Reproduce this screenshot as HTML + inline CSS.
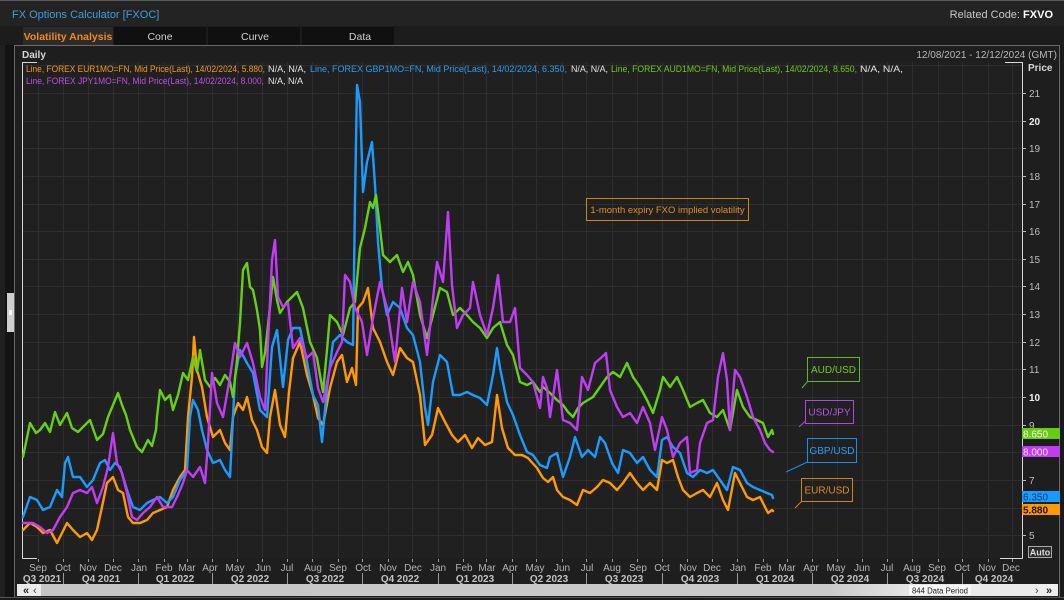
<!DOCTYPE html>
<html><head><meta charset="utf-8"><style>
html,body{margin:0;padding:0;background:#1a1a1a;width:1064px;height:600px;overflow:hidden}
svg{display:block;font-family:"Liberation Sans",Arial,sans-serif}
</style></head><body>
<svg width="1064" height="600" viewBox="0 0 1064 600" xmlns="http://www.w3.org/2000/svg">
<rect x="0" y="0" width="1064" height="600" fill="#1a1a1a"/>
<!-- title bar -->
<rect x="0" y="0" width="1064" height="26" fill="#232323"/>
<line x1="0" y1="0.5" x2="1064" y2="0.5" stroke="#5a5a5a"/>
<text x="12" y="18" font-size="11" fill="#3aa0dc">FX Options Calculator [FXOC]</text>
<text x="1053" y="18" font-size="11" fill="#c8c8c8" text-anchor="end">Related Code: <tspan font-weight="bold" fill="#ffffff">FXVO</tspan></text>
<!-- tab row -->
<rect x="0" y="26" width="1064" height="19" fill="#1c1c1c"/>
<rect x="23" y="27" width="90" height="18" fill="#2b2b2b"/>
<rect x="114" y="27" width="92" height="18" fill="#101010"/>
<rect x="208" y="27" width="92" height="18" fill="#101010"/>
<rect x="302" y="27" width="92" height="18" fill="#101010"/>
<text x="68" y="40" font-size="10.5" font-weight="bold" fill="#f08a1c" text-anchor="middle">Volatility Analysis</text>
<text x="160" y="40" font-size="10.5" fill="#cfcfcf" text-anchor="middle">Cone</text>
<text x="255" y="40" font-size="10.5" fill="#cfcfcf" text-anchor="middle">Curve</text>
<text x="360" y="40" font-size="10.5" fill="#cfcfcf" text-anchor="middle">Data</text>
<!-- left strip -->
<rect x="0" y="45" width="14" height="555" fill="#131313"/>
<rect x="0" y="45" width="5" height="555" fill="#202020"/>
<rect x="7" y="293" width="8" height="39" fill="#cfcfcf"/>
<rect x="9" y="310" width="3" height="5" fill="#f4f4f4"/>
<!-- panel -->
<rect x="14.5" y="45.5" width="1045" height="553" fill="#1e1e1e" stroke="#6a6a6a"/>
<text x="22" y="58" font-size="10" font-weight="bold" fill="#d8d8d8">Daily</text>
<text x="1057" y="58" font-size="10" fill="#b8b8b8" text-anchor="end">12/08/2021 - 12/12/2024 (GMT)</text>
<!-- plot bg -->
<rect x="22" y="62" width="1000" height="496" fill="#202020"/>
<!-- grid -->
<path fill="none" stroke="#2e2e2e" stroke-width="1" d="M22 65.5H1022M22 93.5H1022M22 121.5H1022M22 148.5H1022M22 176.5H1022M22 204.5H1022M22 231.5H1022M22 259.5H1022M22 286.5H1022M22 314.5H1022M22 342.5H1022M22 369.5H1022M22 397.5H1022M22 425.5H1022M22 452.5H1022M22 480.5H1022M22 508.5H1022M22 535.5H1022
M38.5 62V558M63.5 62V558M88.5 62V558M113.5 62V558M138.5 62V558M164.5 62V558M187.5 62V558M212.5 62V558M237.5 62V558M262.5 62V558M287.5 62V558M312.5 62V558M338.5 62V558M362.5 62V558M388.5 62V558M412.5 62V558M438.5 62V558M463.5 62V558M486.5 62V558M512.5 62V558M536.5 62V558M562.5 62V558M586.5 62V558M612.5 62V558M637.5 62V558M662.5 62V558M687.5 62V558M712.5 62V558M737.5 62V558M763.5 62V558M787.5 62V558M812.5 62V558M837.5 62V558M862.5 62V558M887.5 62V558M912.5 62V558M938.5 62V558M962.5 62V558M988.5 62V558M1012.5 62V558"/>
<!-- plot frame -->
<path fill="none" stroke="#d8d8d8" stroke-width="1" d="M22.5 62V558.5M1022.5 62V558.5M22.5 62.5H37M1005 62.5H1022.5M22.5 558.5H37M1000 558.5H1022.5"/>
<!-- legend text -->
<g font-size="9.5">
<text x="26" y="72" fill="#f59a1e" textLength="239" lengthAdjust="spacingAndGlyphs">Line, FOREX EUR1MO=FN, Mid Price(Last),  14/02/2024, 5.880,</text>
<text x="268" y="72" fill="#e6e6e6" textLength="38" lengthAdjust="spacingAndGlyphs">N/A, N/A,</text>
<text x="310" y="72" fill="#2a9cf0" textLength="257" lengthAdjust="spacingAndGlyphs">Line, FOREX GBP1MO=FN, Mid Price(Last),  14/02/2024, 6.350,</text>
<text x="571" y="72" fill="#e6e6e6" textLength="37" lengthAdjust="spacingAndGlyphs">N/A, N/A,</text>
<text x="611" y="72" fill="#72c91c" textLength="246" lengthAdjust="spacingAndGlyphs">Line, FOREX AUD1MO=FN, Mid Price(Last),  14/02/2024, 8.650,</text>
<text x="860" y="72" fill="#e6e6e6" textLength="43" lengthAdjust="spacingAndGlyphs">N/A, N/A,</text>
<text x="26" y="84" fill="#bf4fe8" textLength="238" lengthAdjust="spacingAndGlyphs">Line, FOREX JPY1MO=FN, Mid Price(Last),  14/02/2024, 8.000,</text>
<text x="268" y="84" fill="#e6e6e6" textLength="35" lengthAdjust="spacingAndGlyphs">N/A, N/A</text>
</g>
<!-- annotation -->
<rect x="586.5" y="198.5" width="162" height="22" fill="none" stroke="#d08418"/>
<text x="667.5" y="213" font-size="9.5" fill="#e0901e" text-anchor="middle">1-month expiry FXO implied volatility</text>
<!-- series -->
<g fill="none" stroke-width="2.4" stroke-linejoin="round" stroke-linecap="round">
<polyline stroke="#ff9a00" points="23,530 30,523 37,527 43,533 50,530 57,543 62,533 67,523 73,530 80,537 87,533 92,540 97,530 102,507 107,483 113,477 118,490 123,493 128,517 133,523 140,523 147,520 153,513 160,510 167,507 173,490 180,477 185,470 188,417 192,377 194,337 197,370 202,387 207,417 213,437 220,430 225,443 230,450 233,417 238,403 243,410 247,397 252,420 257,430 262,447 267,453 270,417 275,390 280,425 285,437 289,392 293,358 300,342 307,375 313,395 318,418 323,425 330,388 337,362 342,355 347,382 352,368 356,385 358,308 363,302 368,288 373,328 380,342 387,362 393,375 400,348 407,358 413,362 420,395 425,445 432,435 438,408 445,422 452,435 458,442 465,435 472,448 478,438 485,445 492,442 497,395 502,428 508,448 515,455 522,455 528,458 537,468 543,478 548,482 553,477 557,490 563,497 570,500 577,505 583,490 590,493 597,487 603,480 610,483 617,490 623,483 630,473 637,483 643,490 650,483 657,490 662,460 667,463 673,460 678,477 683,490 690,497 697,493 703,490 710,497 717,483 723,500 728,510 735,473 740,483 747,497 753,500 760,497 765,507 768,513 772,510 773,511"/>
<polyline stroke="#1a9cff" points="23,517 30,497 37,500 43,510 50,507 57,490 62,497 65,463 68,457 73,477 80,477 87,487 93,480 100,463 105,460 110,470 115,463 120,467 127,490 133,507 140,510 147,503 153,500 160,497 167,503 173,497 180,480 187,470 190,417 193,400 198,410 202,430 207,450 213,463 220,460 225,470 230,477 235,377 240,350 247,363 253,373 260,410 267,417 272,347 277,330 283,387 288,340 293,328 300,328 307,362 313,395 318,405 322,442 327,388 333,342 340,335 347,342 353,345 355,200 357,85 360,102 363,192 367,162 372,142 375,185 378,242 382,288 387,315 393,302 400,308 407,328 413,335 420,362 425,408 428,425 433,382 440,355 447,362 453,395 460,395 467,392 473,395 480,398 487,405 493,375 497,348 500,368 507,402 513,415 520,435 527,452 533,455 540,465 547,468 550,457 557,453 563,477 570,457 575,437 582,457 588,450 595,457 600,437 605,443 612,463 618,473 623,450 630,453 637,463 643,457 650,470 657,477 662,440 667,437 673,447 680,453 687,473 693,477 700,470 707,473 713,470 720,480 727,490 733,467 740,470 747,483 753,487 760,490 767,493 772,495 773,498"/>
<polyline stroke="#66d014" points="23,457 30,423 36,433 40,430 45,423 50,432 55,412 60,425 67,413 72,428 78,432 85,425 90,420 97,440 103,434 108,417 113,405 118,393 122,405 126,415 130,430 137,447 142,452 148,440 152,446 156,430 157,417 160,390 165,400 170,395 173,410 178,395 183,373 188,380 193,357 197,372 200,350 205,380 210,387 215,378 220,385 225,375 230,382 233,397 237,360 240,323 243,270 247,263 250,287 253,290 257,310 260,330 262,367 265,353 270,307 273,277 277,300 280,313 287,302 292,297 297,292 303,308 310,342 317,358 323,392 327,350 330,315 337,322 343,335 350,308 355,302 360,248 365,228 370,202 373,208 376,195 380,228 383,255 390,262 397,255 403,272 408,262 413,275 420,315 427,338 433,315 440,288 447,292 453,315 460,308 467,315 473,322 480,328 487,338 493,328 500,322 507,345 513,355 520,382 527,385 533,382 540,392 543,387 550,393 557,400 563,405 568,412 573,417 578,408 583,403 588,400 593,397 600,387 607,377 613,372 620,377 627,363 633,377 640,387 647,400 653,413 660,390 663,377 670,387 677,377 683,390 690,407 697,403 703,400 710,413 717,417 723,410 730,430 737,390 743,407 750,417 757,420 763,423 768,437 772,430 773,434"/>
<polyline stroke="#c23cf5" points="23,523 33,523 40,527 47,533 53,530 60,517 67,507 73,493 80,490 87,493 92,487 97,503 103,487 108,467 113,433 117,463 122,473 127,493 132,517 137,520 143,513 150,507 157,497 163,507 172,507 177,497 183,483 187,470 193,477 200,467 205,483 208,443 212,373 217,403 223,417 230,377 235,343 240,357 247,343 253,363 260,397 265,410 268,343 272,260 275,240 278,297 283,307 288,303 293,348 300,338 307,358 313,352 318,388 323,402 330,368 337,352 342,342 345,275 350,282 355,308 362,322 367,355 373,318 380,282 387,308 395,362 402,288 407,322 413,282 420,302 427,355 432,308 437,262 443,282 448,212 452,285 457,328 463,315 470,308 473,282 480,315 487,335 493,308 498,275 503,322 510,322 515,308 520,368 527,375 533,382 540,408 543,377 547,388 550,417 557,370 563,420 570,423 577,430 582,377 588,390 595,363 602,357 606,353 610,390 617,407 623,417 630,413 637,423 643,407 650,423 655,450 662,417 667,430 673,457 680,443 687,437 690,473 697,470 700,443 707,423 713,420 718,377 723,353 727,380 730,430 735,370 740,377 747,397 753,417 760,430 765,443 770,450 773,452"/>
</g>
<!-- series labels -->
<g font-size="10" text-anchor="middle" fill="none">
<rect x="807.5" y="357.5" width="52" height="24" stroke="#62b820"/>
<line x1="802" y1="388" x2="807.5" y2="381.5" stroke="#62b820"/>
<text x="833.5" y="373" fill="#72c91c" stroke="none">AUD/USD</text>
<rect x="805.5" y="400.5" width="48" height="23" stroke="#b048e0"/>
<line x1="799" y1="427" x2="805.5" y2="421" stroke="#b048e0"/>
<text x="829.5" y="415.5" fill="#bf4fe8" stroke="none">USD/JPY</text>
<rect x="807.5" y="438.5" width="49" height="24" stroke="#1a8ee0"/>
<line x1="786" y1="472" x2="807.5" y2="462" stroke="#1a8ee0"/>
<text x="832" y="454" fill="#2a9cf0" stroke="none">GBP/USD</text>
<rect x="801.5" y="478.5" width="51" height="23" stroke="#d08418"/>
<line x1="795" y1="508" x2="801.5" y2="501.5" stroke="#d08418"/>
<text x="827" y="493.5" fill="#e0901e" stroke="none">EUR/USD</text>
</g>
<!-- y axis -->
<text x="1028" y="71" font-size="10" font-weight="bold" fill="#d8d8d8">Price</text>
<path stroke="#bbbbbb" d="M1022 93.5H1026M1022 121.5H1026M1022 148.5H1026M1022 176.5H1026M1022 204.5H1026M1022 231.5H1026M1022 259.5H1026M1022 286.5H1026M1022 314.5H1026M1022 342.5H1026M1022 369.5H1026M1022 397.5H1026M1022 425.5H1026M1022 480.5H1026M1022 535.5H1026"/>
<g font-size="10" fill="#bdbdbd">
<text x="1029" y="97">21</text>
<text x="1029" y="125" font-weight="bold" fill="#f0f0f0">20</text>
<text x="1029" y="152">19</text>
<text x="1029" y="180">18</text>
<text x="1029" y="208">17</text>
<text x="1029" y="235">16</text>
<text x="1029" y="263">15</text>
<text x="1029" y="290">14</text>
<text x="1029" y="318">13</text>
<text x="1029" y="346">12</text>
<text x="1029" y="373">11</text>
<text x="1029" y="401" font-weight="bold" fill="#f0f0f0">10</text>
<text x="1029" y="429">9</text>
<text x="1029" y="484">7</text>
<text x="1029" y="539">5</text>
</g>
<!-- value tags -->
<rect x="1022" y="428" width="38" height="11" fill="#66cc11"/>
<text x="1023" y="437.5" font-size="10" fill="#f4fff0">8.650</text>
<rect x="1022" y="446" width="38" height="11" fill="#c03cf0"/>
<text x="1023" y="455.5" font-size="10" fill="#f6e6ff">8.000</text>
<rect x="1022" y="491" width="38" height="11" fill="#1a9cff"/>
<text x="1023" y="500.5" font-size="10" fill="#0b3d77">6.350</text>
<rect x="1022" y="504" width="38" height="11" fill="#ff9900"/>
<text x="1023" y="513.5" font-size="10" font-weight="bold" fill="#1a1000">5.880</text>
<rect x="1028.5" y="546.5" width="23" height="11" fill="#2a2a2a" stroke="#aaaaaa"/>
<text x="1040" y="555.5" font-size="9" font-weight="bold" fill="#dddddd" text-anchor="middle">Auto</text>
<!-- x axis -->
<path stroke="#999999" d="M38.5 559V562M63.5 559V562M88.5 559V562M113.5 559V562M138.5 559V562M164.5 559V562M187.5 559V562M212.5 559V562M237.5 559V562M262.5 559V562M287.5 559V562M312.5 559V562M338.5 559V562M362.5 559V562M388.5 559V562M412.5 559V562M438.5 559V562M463.5 559V562M486.5 559V562M512.5 559V562M536.5 559V562M562.5 559V562M586.5 559V562M612.5 559V562M637.5 559V562M662.5 559V562M687.5 559V562M712.5 559V562M737.5 559V562M763.5 559V562M787.5 559V562M812.5 559V562M837.5 559V562M862.5 559V562M887.5 559V562M912.5 559V562M938.5 559V562M962.5 559V562M988.5 559V562M1012.5 559V562
M63.5 573V584M138.5 573V584M212.5 573V584M287.5 573V584M362.5 573V584M438.5 573V584M512.5 573V584M586.5 573V584M662.5 573V584M737.5 573V584M812.5 573V584M887.5 573V584M962.5 573V584"/>
<g font-size="10" fill="#b4b4b4" text-anchor="middle">
<text x="38" y="571">Sep</text><text x="63" y="571">Oct</text><text x="88" y="571">Nov</text><text x="113" y="571">Dec</text>
<text x="139" y="571">Jan</text><text x="164" y="571">Feb</text><text x="187" y="571">Mar</text><text x="210" y="571">Apr</text><text x="235" y="571">May</text><text x="263" y="571">Jun</text><text x="287" y="571">Jul</text><text x="313" y="571">Aug</text><text x="338" y="571">Sep</text><text x="363" y="571">Oct</text><text x="388" y="571">Nov</text><text x="413" y="571">Dec</text>
<text x="438" y="571">Jan</text><text x="464" y="571">Feb</text><text x="487" y="571">Mar</text><text x="510" y="571">Apr</text><text x="535" y="571">May</text><text x="562" y="571">Jun</text><text x="587" y="571">Jul</text><text x="612" y="571">Aug</text><text x="638" y="571">Sep</text><text x="662" y="571">Oct</text><text x="688" y="571">Nov</text><text x="712" y="571">Dec</text>
<text x="738" y="571">Jan</text><text x="763" y="571">Feb</text><text x="787" y="571">Mar</text><text x="811" y="571">Apr</text><text x="836" y="571">May</text><text x="862" y="571">Jun</text><text x="887" y="571">Jul</text><text x="912" y="571">Aug</text><text x="937" y="571">Sep</text><text x="962" y="571">Oct</text><text x="987" y="571">Nov</text><text x="1011" y="571">Dec</text>
</g>
<g font-size="10" font-weight="bold" fill="#c4c4c4" text-anchor="middle">
<text x="42" y="582">Q3 2021</text><text x="101" y="582">Q4 2021</text><text x="175" y="582">Q1 2022</text><text x="250" y="582">Q2 2022</text>
<text x="325" y="582">Q3 2022</text><text x="400" y="582">Q4 2022</text><text x="475" y="582">Q1 2023</text><text x="549" y="582">Q2 2023</text>
<text x="624" y="582">Q3 2023</text><text x="700" y="582">Q4 2023</text><text x="775" y="582">Q1 2024</text><text x="850" y="582">Q2 2024</text>
<text x="925" y="582">Q3 2024</text><text x="994" y="582">Q4 2024</text>
</g>
<!-- scrollbar -->
<defs><linearGradient id="sb" x1="0" x2="1" y1="0" y2="0">
<stop offset="0" stop-color="#c6c6c6"/><stop offset="0.78" stop-color="#cacaca"/><stop offset="0.86" stop-color="#e6e6e6"/><stop offset="1" stop-color="#eeeeee"/></linearGradient></defs>
<rect x="17" y="584" width="1041" height="12" fill="url(#sb)"/>
<rect x="17" y="584" width="24" height="12" fill="#ececec"/>
<text x="23" y="594" font-size="11" font-weight="bold" fill="#222">«</text>
<text x="33" y="594" font-size="11" fill="#444">‹</text>
<rect x="909" y="585" width="62" height="10" fill="#f6f6f6"/>
<text x="912" y="593.5" font-size="8.5" fill="#1a1a1a" textLength="56" lengthAdjust="spacingAndGlyphs">844 Data Period</text>
<text x="1035" y="594" font-size="11" fill="#444">›</text>
<text x="1046" y="594" font-size="11" font-weight="bold" fill="#222">»</text>
<rect x="0" y="597" width="1064" height="3" fill="#1a1a1a"/>
<line x1="0" y1="597.5" x2="1064" y2="597.5" stroke="#555"/>
</svg>
</body></html>
